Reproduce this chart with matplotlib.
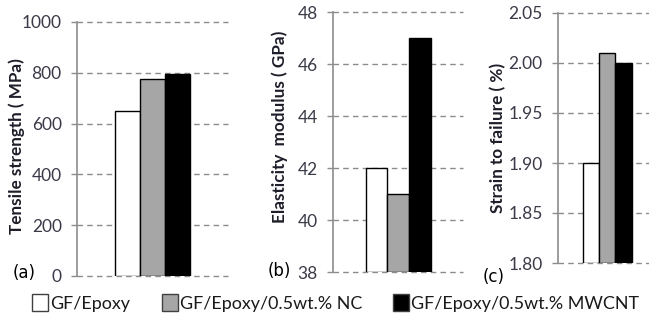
import matplotlib.pyplot as plt
from matplotlib.patches import Rectangle

# data
series = ['GF/Epoxy', 'GF/Epoxy/0.5wt.% NC', 'GF/Epoxy/0.5wt.% MWCNT']
colors = ['white', '#a6a6a6', 'black']

tensile = [650, 775, 795]
modulus = [42, 41, 47]
strain = [1.90, 2.01, 2.00]

tensile_ticks = [0, 200, 400, 600, 800, 1000]
modulus_ticks = [38, 40, 42, 44, 46, 48]
strain_ticks = [1.80, 1.85, 1.90, 1.95, 2.00, 2.05]
strain_labels = ['1.80', '1.85', '1.90', '1.95', '2.00', '2.05']

ylabels = ['Tensile strength ( MPa)', 'Elasticity  modulus ( GPa)', 'Strain to failure ( %)']

plt.rcParams['font.family'] = ['Lato', 'DejaVu Sans']

fig = plt.figure(figsize=(6.49, 3.2), dpi=100)

W, H = 649, 320


def px_axes(x0, y_top, x1, y_bot):
    return fig.add_axes([x0 / W, 1 - y_bot / H, (x1 - x0) / W, (y_bot - y_top) / H])


panels = [
    (px_axes(77, 22, 228, 276), tensile, tensile_ticks, None, (0, 1000)),
    (px_axes(333, 12, 463, 272), modulus, modulus_ticks, None, (38, 48)),
    (px_axes(558, 13, 656, 263), strain, strain_ticks, strain_labels, (1.80, 2.05)),
]

grey = '#8c8c8c'
for ax, vals, ticks, labels, ylim in panels:
    base = ylim[0]
    for i, (v, c) in enumerate(zip(vals, colors)):
        ax.bar(i - 1, v - base, bottom=base, width=1.0, color=c,
               edgecolor='black', linewidth=1.0, zorder=3)
    ax.set_xlim(-3, 3)
    ax.set_ylim(*ylim)
    ax.set_yticks(ticks)
    if labels:
        ax.set_yticklabels(labels)
    ax.set_xticks([])
    for t in ticks:
        ax.axhline(t, color=grey, lw=1.0, ls=(0, (4, 3)), zorder=1, clip_on=False)
    for s in ['top', 'right', 'bottom']:
        ax.spines[s].set_visible(False)
    ax.spines['left'].set_color(grey)
    ax.spines['left'].set_linewidth(1.2)
    ax.tick_params(axis='y', length=4, width=1, color=grey, pad=7,
                   labelsize=12.5, labelcolor='#3a3a48')
    ax.patch.set_visible(False)

# y labels placed by hand at the centres seen in the original
label_pos = [(17, 146), (280, 127), (498, 138)]
for text, (x, y) in zip(ylabels, label_pos):
    fig.text(x / W, 1 - y / H, text, rotation=90, ha='center', va='center',
             fontsize=12.3, fontweight='bold', color='#1e1e2a')

tag_kw = dict(ha='center', va='center', fontsize=12, color='black',
              family='DejaVu Sans')
fig.text(24 / W, 1 - 273 / H, '(a)', **tag_kw)
fig.text(279 / W, 1 - 271 / H, '(b)', **tag_kw)
fig.text(494 / W, 1 - 277 / H, '(c)', **tag_kw)

# legend drawn by hand: entries are not evenly spaced in the original
sq_left = [32, 162, 393]
sq_w, sq_h = 16, 17
leg_y = 302
texts = []
for x0, c, name in zip(sq_left, colors, series):
    fig.patches.append(Rectangle((x0 / W, 1 - (leg_y + sq_h / 2) / H), sq_w / W, sq_h / H,
                                 transform=fig.transFigure, facecolor=c,
                                 edgecolor='#404040', linewidth=1.0))
    texts.append(fig.text((x0 + sq_w + 2) / W, 1 - leg_y / H, name, ha='left',
                          va='center_baseline', fontsize=12, color='#1a1a1a'))

# scale legend text so the longest label spans about 227 px like the original
renderer = fig.canvas.get_renderer()
w = texts[-1].get_window_extent(renderer).width
fs = 12 * 227 / w
for t in texts:
    t.set_fontsize(fs)

fig.savefig('out.png', dpi=100)
